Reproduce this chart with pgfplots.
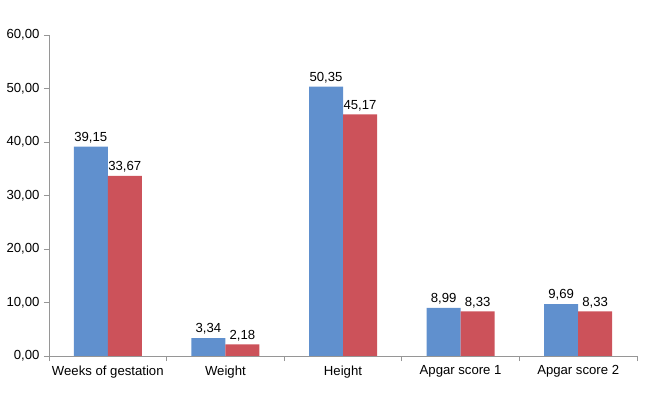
\documentclass[border=0pt]{standalone}
\usepackage{pgfplots}
\pgfplotsset{compat=1.18}
\usepackage{fontspec}
\setmainfont{Liberation Sans}
\definecolor{barblue}{RGB}{96,144,206}
\definecolor{barred}{RGB}{204,82,90}
\definecolor{axgray}{RGB}{150,150,150}
\begin{document}
\begin{tikzpicture}
\begin{axis}[
  at={(0,0)}, anchor=south west,
  scale only axis, width=588bp, height=321bp,
  ybar=0pt, bar width=34bp,
  xmin=-0.5, xmax=4.5, ymin=0, ymax=60,
  axis lines*=left,
  axis line style={axgray, line width=0.8pt},
  every tick/.style={axgray, line width=0.8pt},
  tick align=outside,
  xtick={0,1,2,3,4},
  xticklabels={Weeks of gestation, Weight, Height, Apgar score 1, Apgar score 2},
  major x tick style={draw=none},
  minor xtick={-0.5,0.5,1.5,2.5,3.5,4.5},
  minor tick length=5bp,
  major tick length=5bp,
  ytick={0,10,...,60},
  tick label style={font=\fontsize{13.2}{15}\selectfont, text=black},
  /pgf/number format/.cd, fixed, fixed zerofill, precision=2, use comma, assume math mode=true,
  /pgfplots/.cd,
  nodes near coords,
  every node near coord/.append style={font=\fontsize{13.2}{15}\selectfont, text=black, yshift=0bp},
  xticklabel style={yshift=-1bp},
  yticklabel style={xshift=-1bp},
]
\addplot[fill=barblue, draw=none] coordinates {(0,39.15) (1,3.34) (2,50.35) (3,8.99) (4,9.69)};
\addplot[fill=barred, draw=none] coordinates {(0,33.67) (1,2.18) (2,45.17) (3,8.33) (4,8.33)};
\end{axis}
\pgfresetboundingbox
\useasboundingbox (-49bp,-43bp) rectangle (610bp,356bp);
\end{tikzpicture}
\end{document}
